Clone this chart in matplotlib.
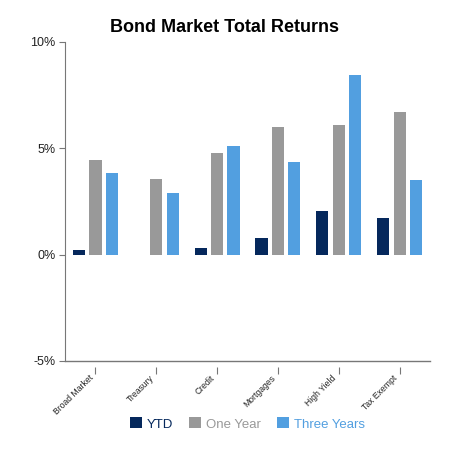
import matplotlib
matplotlib.use("Agg")
import matplotlib.pyplot as plt
import matplotlib.transforms as mtransforms
import numpy as np

categories = ["Broad Market", "Treasury", "Credit", "Mortgages", "High Yield", "Tax Exempt"]
series_names = ["YTD", "One Year", "Three Years"]
ytd = [0.24, -0.02, 0.29, 0.78, 2.07, 1.71]
one_year = [4.46, 3.57, 4.77, 5.99, 6.10, 6.70]
three_years = [3.86, 2.91, 5.13, 4.37, 8.43, 3.51]
colors = ["#05285c", "#999999", "#529fe0"]
yticks = [-5, 0, 5, 10]
ytick_labels = ["-5%", "0%", "5%", "10%"]

plt.rcParams['font.family'] = ['Liberation Sans', 'DejaVu Sans']
fig = plt.figure(figsize=(4.5, 4.5), dpi=100)
ax = fig.add_axes([65/450, 1-361/450, 365/450, 319/450])

for s in ["top", "right"]:
    ax.spines[s].set_visible(False)
ax.spines["left"].set_color("#777777")
ax.spines["bottom"].set_position(("outward", 4))
ax.spines["bottom"].set_visible(False)

x = np.arange(len(categories))
w = 0.2
gap = 0.27
for i, (vals, c) in enumerate(zip([ytd, one_year, three_years], colors)):
    ax.bar(x + (i - 1) * gap, vals, width=w, color=c, label=series_names[i], zorder=2)

ax.set_xlim(-0.5, len(categories) - 0.5)
ax.set_ylim(-5, 10)
ax.set_yticks(yticks)
ax.set_yticklabels(ytick_labels, fontsize=9, color="#222222")
ax.set_xticks(x)
ax.set_xticklabels(categories, fontsize=6.2, rotation=45, ha="right", va="top",
                   rotation_mode="anchor", color="#222222")
ax.tick_params(axis="y", length=4, color="#777777", pad=3)
ax.tick_params(axis="x", length=5, color="#777777", pad=3)

offset = mtransforms.ScaledTranslation(-7/100, 4/100, fig.dpi_scale_trans)
for lab in ax.get_xticklabels():
    lab.set_transform(lab.get_transform() + offset)

ax.plot([-0.5, len(categories) - 0.5], [-5, -5], color="#777777", lw=1, clip_on=False, zorder=3)

fig.text(0.5, 1 - 27/450, "Bond Market Total Returns", ha="center", va="center",
         fontsize=13, fontweight="bold")

leg = ax.legend(loc="center", bbox_to_anchor=(0.5, (361 - 424) / 319), ncol=3, frameon=False,
                fontsize=9.5, handlelength=0.9, handleheight=0.9, handletextpad=0.4,
                columnspacing=1.2)
for t, c in zip(leg.get_texts(), colors):
    t.set_color(c)

fig.savefig("out.png", dpi=100)
